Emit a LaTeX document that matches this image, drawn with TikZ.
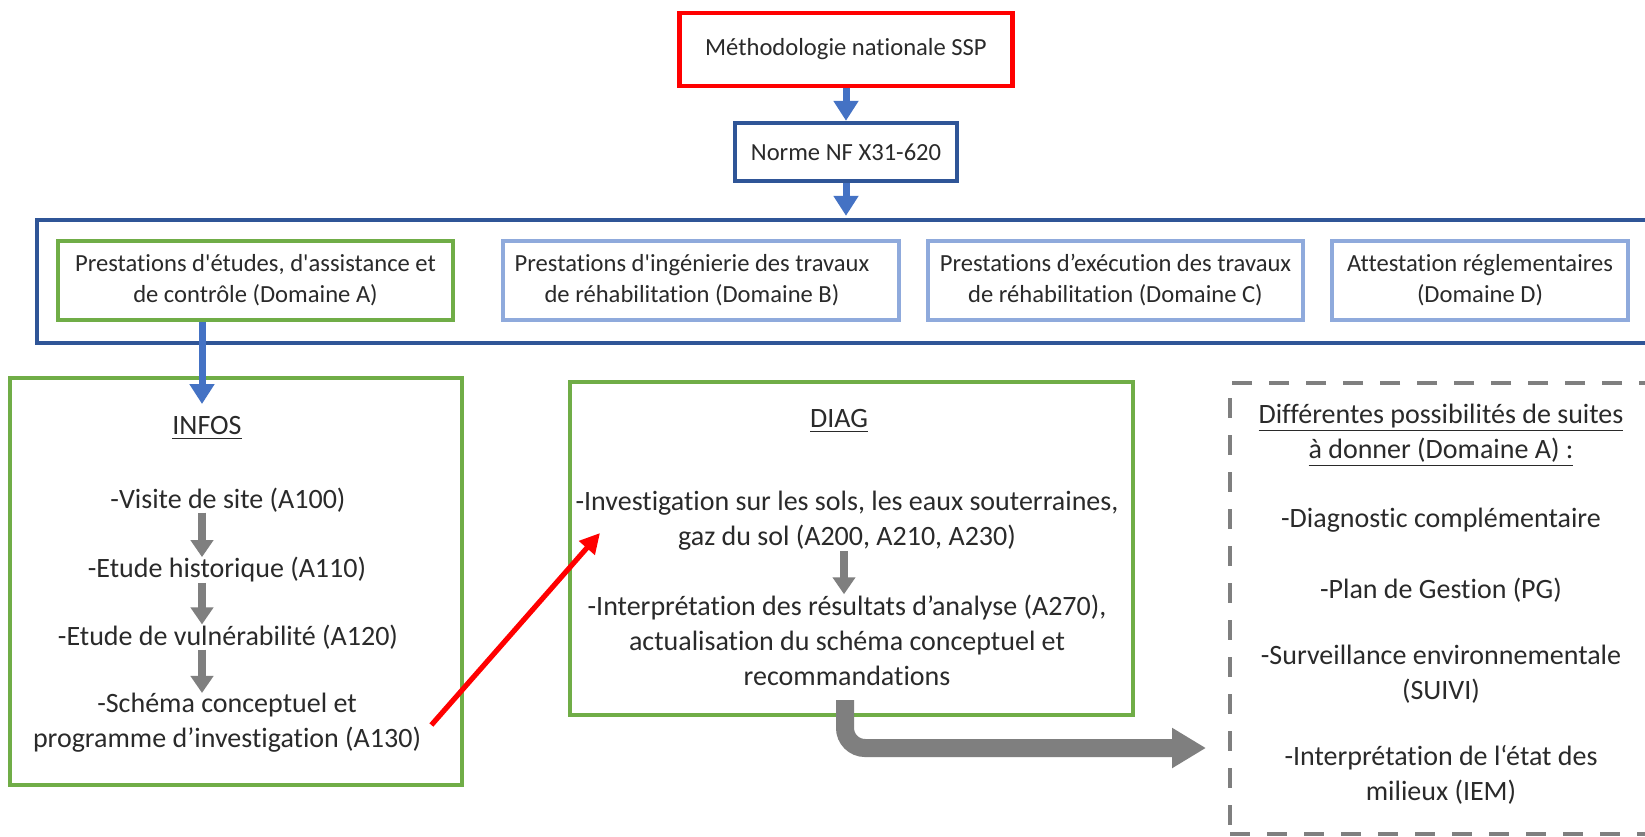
\documentclass[tikz,border=0pt]{standalone}
\usepackage{fontspec}
\setmainfont{Carlito}[Ligatures={TeX,NoCommon}]
\usetikzlibrary{arrows.meta}
\definecolor{redline}{HTML}{FF0000}
\definecolor{navyline}{HTML}{2F5597}
\definecolor{skyline}{HTML}{8FAADC}
\definecolor{greenline}{HTML}{70AD47}
\definecolor{arrowblue}{HTML}{4472C4}
\definecolor{arrowgray}{HTML}{7F7F7F}
\definecolor{ink}{HTML}{2A2A2A}
\begin{document}
\begin{tikzpicture}[x=0.5pt,y=-0.5pt,
  bigtext/.style={font=\fontsize{14pt}{17.5pt}\selectfont, text=ink, align=center, inner sep=0pt},
  smalltext/.style={font=\fontsize{12.3pt}{15.5pt}\selectfont, text=ink, align=center, inner sep=0pt},
  framebox/.style={draw, rectangle, line width=2.2pt, inner sep=0pt},
  domainbox/.style={framebox, smalltext, minimum height=39.5pt},
  bluearrow/.style={draw=arrowblue, line width=3.5pt, -{Triangle[width=12pt,length=10pt]}},
  grayarrow/.style={draw=arrowgray, line width=4pt, -{Triangle[width=11pt,length=8.5pt]}},
  redarrow/.style={draw=redline, line width=2.6pt, -{Triangle[width=10pt,length=10pt]}},
  bigarrow/.style={draw=arrowgray, line width=9pt, rounded corners=10pt, -{Triangle[width=19pt,length=17pt]}}
]
\useasboundingbox (0,0) rectangle (1645,836);
\fill[white] (0,0) rectangle (1645,836);
\clip (0,0) rectangle (1645,836);

% top of the hierarchy
\node[framebox, draw=redline, smalltext, minimum width=166.5pt, minimum height=36.5pt] (meth) at (846,49.5) {Méthodologie nationale SSP};
\node[framebox, draw=navyline, smalltext, minimum width=111pt, minimum height=29pt] (norme) at (846,152) {Norme NF X31-620};

% the four domains
\node[framebox, draw=navyline, minimum width=831.5pt, minimum height=61.5pt] (cont) at (868.5,281.5) {};
\node[domainbox, draw=greenline, minimum width=197.5pt] (domA) at (255.5,280.5)
  {Prestations d\textquotesingle études, d\textquotesingle assistance et\\de contrôle (Domaine A)};
\node[domainbox, draw=skyline, line width=2pt, minimum width=198pt] (domB) at (701,280.5)
  {Prestations d\textquotesingle ingénierie des travaux\hspace*{9pt}\\de réhabilitation (Domaine B)\hspace*{9pt}};
\node[domainbox, draw=skyline, line width=2pt, minimum width=187.5pt] (domC) at (1115.5,280.5)
  {Prestations d’exécution des travaux\\de réhabilitation (Domaine C)};
\node[domainbox, draw=skyline, line width=2pt, minimum width=148pt] (domD) at (1480,280.5)
  {Attestation réglementaires\\(Domaine D)};

% INFOS phase
\node[framebox, draw=greenline, minimum width=226pt, minimum height=203.5pt] (infos) at (236,581.5) {};
\node[bigtext] (infost) at (207,428) {\underline{INFOS}};
\node[bigtext] (visite) at (228,500) {-Visite de site (A100)};
\node[bigtext] (histo) at (227,570) {-Etude historique (A110)};
\node[bigtext] (vuln) at (228,637) {-Etude de vulnérabilité (A120)};
\node[bigtext] (schema) at (227,723) {-Schéma conceptuel et\\programme d’investigation (A130)};
\coordinate (axisI) at (202,0);
\coordinate (infosin) at (202,404);

% DIAG phase
\node[framebox, draw=greenline, minimum width=281.5pt, minimum height=166.5pt] (diag) at (851.5,548.5) {};
\node[bigtext] (diagt) at (839,421) {\underline{DIAG}};
\node[bigtext] (inv) at (847,521) {-Investigation sur les sols, les eaux souterraines,\\gaz du sol (A200, A210, A230)};
\node[bigtext] (interp) at (847,640) {-Interprétation des résultats d’analyse (A270),\\actualisation du schéma conceptuel et\\recommandations};
\coordinate (axisD) at (844,0);
\coordinate (redtip) at (600,533);

% possible follow-ups
\node[draw=arrowgray, line width=2pt, dash pattern=on 10pt off 8.5pt, minimum width=235pt, minimum height=225.5pt] (suitesbox) at (1465,608.5) {};
\node[bigtext] (suites) at (1441,435) {\underline{Différentes possibilités de suites}\\\underline{à donner (Domaine A) :}};
\node[bigtext] (diagc) at (1441,520) {-Diagnostic complémentaire};
\node[bigtext] (plan) at (1441,590) {-Plan de Gestion (PG)};
\node[bigtext] (surv) at (1441,674) {-Surveillance environnementale\\(SUIVI)};
\node[bigtext] (iem) at (1441,775) {-Interprétation de l‘état des\\milieux (IEM)};

\coordinate (gstart) at (845,700);
\coordinate (gend) at (1206,748);

% connectors
\draw[bluearrow] (meth.south) -- (norme.north);
\draw[bluearrow] (norme.south) -- ([yshift=1pt]norme.south |- cont.north);
\draw[bluearrow] (domA.south -| axisI) -- (infosin);
\draw[grayarrow] (visite.south -| axisI) -- (histo.north -| axisI);
\draw[grayarrow] (histo.south -| axisI) -- (vuln.north -| axisI);
\draw[grayarrow] (vuln.south -| axisI) -- (schema.north -| axisI);
\draw[grayarrow] (inv.south -| axisD) -- (interp.north -| axisD);
\draw[redarrow] ([xshift=5pt,yshift=-1pt]schema.east) -- (redtip);
\draw[bigarrow] (gstart) |- (gend);
\end{tikzpicture}
\end{document}
